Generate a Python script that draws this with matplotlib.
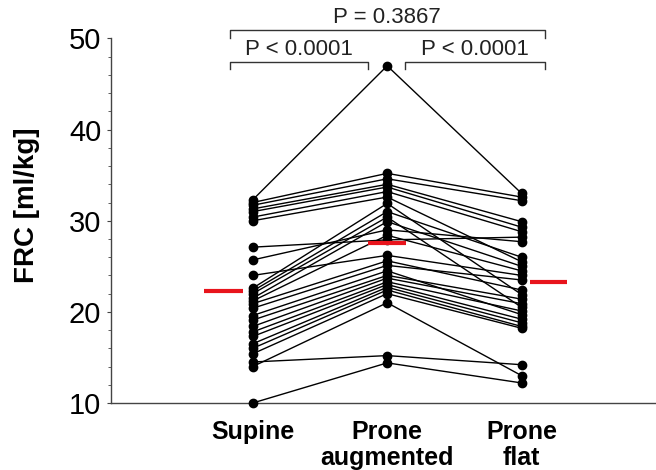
import matplotlib
matplotlib.use("Agg")
import matplotlib.pyplot as plt
import numpy as np

plt.rcParams['font.family'] = ['Liberation Sans', 'DejaVu Sans']

categories = ["Supine", "Prone\naugmented", "Prone\nflat"]

supine = [32.3, 32.0, 31.7, 31.3, 31.0, 30.4, 30.0, 27.1, 25.7, 24.0,
          22.6, 22.3, 22.0, 21.5, 21.2, 20.9, 20.4, 19.6, 19.1, 18.4,
          17.8, 17.3, 16.5, 16.0, 15.4, 14.5, 14.0, 10.0]
prone_aug = [47.0, 35.2, 34.6, 34.0, 33.7, 33.2, 32.6, 27.9, 29.0, 26.2,
             31.9, 31.0, 30.4, 29.9, 28.4, 25.6, 25.1, 24.5, 24.0, 23.7,
             23.3, 23.0, 22.7, 22.4, 22.0, 15.2, 21.0, 14.4]
prone_flat = [33.0, 32.6, 32.2, 29.9, 29.3, 28.8, 25.5, 28.2, 27.7, 24.0,
              21.9, 26.0, 20.5, 25.0, 24.5, 22.4, 23.5, 19.7, 21.4, 20.9,
              20.1, 19.2, 18.8, 18.4, 18.2, 14.2, 13.0, 12.2]

p_values = ["P = 0.3867", "P < 0.0001", "P < 0.0001"]

means = [np.mean(supine), np.mean(prone_aug), np.mean(prone_flat)]

fig = plt.figure(figsize=(6.56, 4.70), dpi=100)
ax = fig.add_axes([0.169, 0.1426, 0.831, 0.7755])

x = np.arange(3)
for s, a, f in zip(supine, prone_aug, prone_flat):
    ax.plot(x, [s, a, f], color='black', lw=1.0, marker='o', ms=6,
            mfc='black', mec='black', zorder=3, clip_on=False)

red = '#e8141c'
mean_spans = [(-0.36, -0.07), (-0.14, 0.14), (0.06, 0.34)]
for i, (m, (a, b)) in enumerate(zip(means, mean_spans)):
    ax.plot([i + a, i + b], [m, m], color=red, lw=3, solid_capstyle='butt', zorder=4)

ax.set_xlim(-1.056, 3.0)
ax.set_ylim(10, 50)
ax.set_yticks([10, 20, 30, 40, 50])
ax.set_yticks(np.arange(10, 51, 2), minor=True)
ax.set_xticks(x)
ax.set_xticklabels(categories, fontsize=18, fontweight='bold', linespacing=1.15)
ax.tick_params(axis='x', length=0, pad=12)
ax.tick_params(axis='y', which='major', length=3, width=0.8, labelsize=21, pad=4, color='#444444')
ax.tick_params(axis='y', which='minor', length=2, width=0.6, color='#444444')

for sp in ['top', 'right']:
    ax.spines[sp].set_visible(False)
for sp in ['left', 'bottom']:
    ax.spines[sp].set_color('#444444')
    ax.spines[sp].set_linewidth(1.0)

fig.text(27 / 656, 1 - 205 / 470, "FRC [ml/kg]", rotation=90, fontsize=20,
         fontweight='bold', ha='center', va='center')

def bracket(x0, x1, y, ytick, text, ytext):
    ax.plot([x0, x0, x1, x1], [ytick, y, y, ytick], color='#333333', lw=1.0,
            clip_on=False, zorder=5)
    ax.text((x0 + x1) / 2, ytext, text, ha='center', va='center', fontsize=16,
            color='#222222', clip_on=False)

bracket(-0.171, 2.171, 50.88, 50.1, p_values[0], 52.25)
bracket(-0.171, 0.855, 47.37, 46.6, p_values[1], 48.75)
bracket(1.13, 2.171, 47.37, 46.6, p_values[2], 48.75)

fig.savefig("out.png", dpi=100)
